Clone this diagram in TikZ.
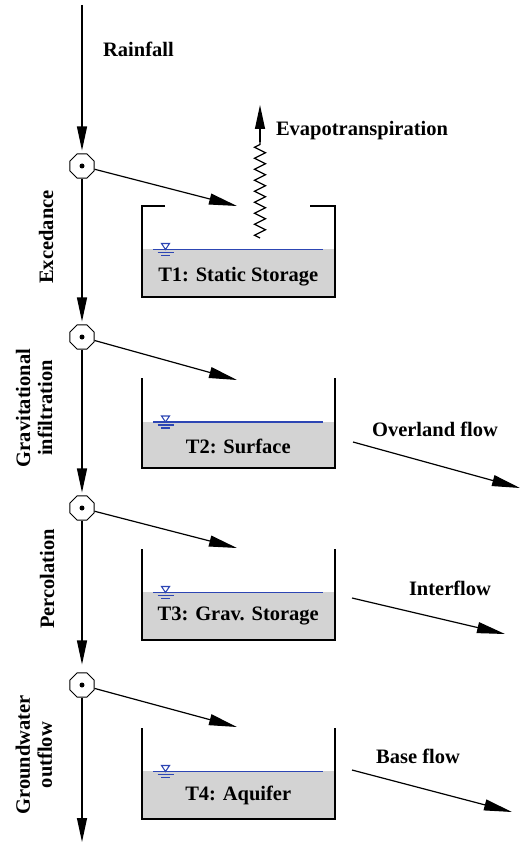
\documentclass[tikz,border=0pt]{standalone}
\usepackage{fontspec}
\setmainfont{Liberation Serif}[BoldFont={Liberation Serif Bold}]
\usetikzlibrary{arrows.meta,shapes.geometric,decorations.pathmorphing}
\definecolor{water}{RGB}{45,70,180}
\definecolor{soil}{RGB}{211,211,211}
\begin{document}
\begin{tikzpicture}[x=1pt,y=-1pt,
  lbl/.style={font=\fontsize{20.5}{22}\selectfont\bfseries, inner sep=0pt, align=center},
  junction/.style={draw, regular polygon, regular polygon sides=8, minimum size=26pt, inner sep=0pt, line width=1pt, fill=white},
  flow/.style={line width=1.2pt, -{Triangle[length=24pt,width=10pt]}},
  slant/.style={line width=1.2pt, -{Triangle[length=28pt,width=11pt]}},
  wall/.style={line width=2pt},
  wline/.style={water, line width=1.4pt},
  wsym/.pic={
    \draw[water, line width=1.1pt] (-4,-6) -- (4,-6) -- (0,0) -- cycle;
    \draw[water, line width=1.8pt] (-8,3) -- (8,3);
    \draw[water, line width=1.8pt] (-4.5,6) -- (4.5,6);
  }
]
\useasboundingbox (0,0) rectangle (521,845);

% junctions
\node[junction] (c1) at (82,166) {};
\node[junction] (c2) at (82,337) {};
\node[junction] (c3) at (82,508) {};
\node[junction] (c4) at (82,685) {};
\foreach \c in {c1,c2,c3,c4} \fill (\c.center) circle (2.5pt);

\coordinate (top) at (82,5);
\coordinate (bot) at (82,842);
\draw[flow, shorten >=3pt] (top) -- (c1);
\draw[flow, shorten >=3pt] (c1) -- (c2);
\draw[flow, shorten >=3pt] (c2) -- (c3);
\draw[flow, shorten >=8pt] (c3) -- (c4);
\draw[flow] (c4) -- (bot);

% labels on the left
\node[lbl] (rain) at (138.5,49.5) {Rainfall};
\node[lbl, rotate=90] (exc) at (46,237) {Excedance};
\node[lbl, rotate=90] (grav) at (34,408) {Gravitational\\infiltration};
\node[lbl, rotate=90] (perc) at (47,579) {Percolation};
\node[lbl, rotate=90] (gw) at (34,755) {Groundwater\\outflow};

% tank T1
\fill[soil] (141.5,249) rectangle (335,297);
\draw[wall] (165,206) -- (141.5,206) -- (141.5,297) -- (335,297) -- (335,206) -- (310,206);
\draw[wline] (153,249.5) -- (323,249.5);
\pic at (165.5,249.5) {wsym};
\node[lbl] (t1) at (238.25,277) {T1: Static Storage};

% tank T2
\fill[soil] (141.5,421.5) rectangle (335,468);
\draw[wall] (141.5,378) -- (141.5,468) -- (335,468) -- (335,378);
\draw[wline] (153,422) -- (323,422);
\pic at (165.5,422) {wsym};
\node[lbl] (t2) at (238.25,446) {T2: Surface};

% tank T3
\fill[soil] (141.5,592) rectangle (335,640);
\draw[wall] (141.5,549) -- (141.5,640) -- (335,640) -- (335,549);
\draw[wline] (153,592.5) -- (323,592.5);
\pic at (165.5,592.5) {wsym};
\node[lbl] (t3) at (238.25,616) {T3: Grav. Storage};

% tank T4
\fill[soil] (141.5,771) rectangle (335,819);
\draw[wall] (141.5,728) -- (141.5,819) -- (335,819) -- (335,728);
\draw[wline] (153,771.5) -- (323,771.5);
\pic at (165.5,771.5) {wsym};
\node[lbl] (t4) at (238.25,795) {T4: Aquifer};

% inflow arrows
\coordinate (i1) at (237,206);
\coordinate (i2) at (237,380);
\coordinate (i3) at (237,548);
\coordinate (i4) at (237,727);
\draw[slant] (c1) -- (i1);
\draw[slant] (c2) -- (i2);
\draw[slant] (c3) -- (i3);
\draw[slant] (c4) -- (i4);

% evapotranspiration
\coordinate (e0) at (260,238);
\coordinate (e1) at (260,142);
\coordinate (e2) at (260,105);
\draw[line width=1.2pt, decorate, decoration={zigzag, segment length=11pt, amplitude=5.5pt}] (e0) -- (e1);
\draw[flow] (e1) -- (e2);
\node[lbl] (evap) at (362,131) {Evapotranspiration};

% outflows
\coordinate (o1a) at (353,442);
\coordinate (o1b) at (520,488);
\coordinate (o2a) at (352,598);
\coordinate (o2b) at (505,634);
\coordinate (o3a) at (352,770);
\coordinate (o3b) at (512,812);
\draw[slant] (o1a) -- (o1b);
\draw[slant] (o2a) -- (o2b);
\draw[slant] (o3a) -- (o3b);
\node[lbl] (over) at (435,429) {Overland flow};
\node[lbl] (inter) at (450,588) {Interflow};
\node[lbl] (base) at (418,756) {Base flow};
\end{tikzpicture}
\end{document}
